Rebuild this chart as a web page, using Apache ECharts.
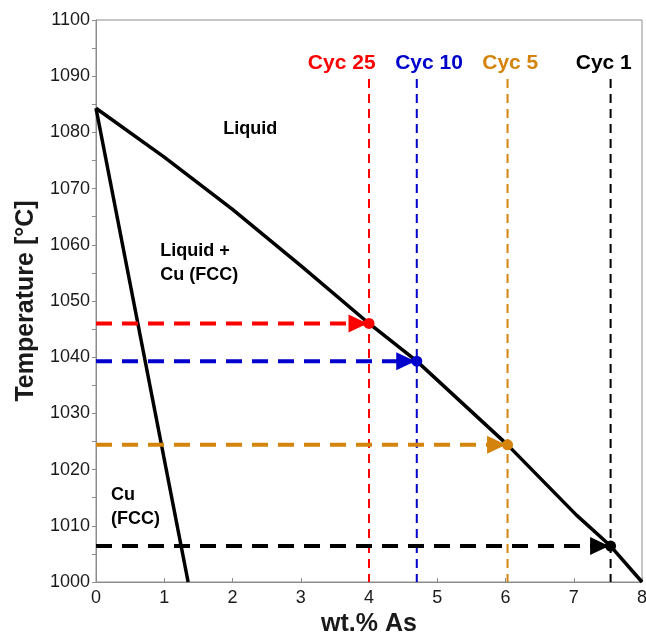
<!DOCTYPE html>
<html>
<head>
<meta charset="utf-8">
<script src="https://cdn.jsdelivr.net/npm/echarts@6/dist/echarts.min.js"></script>
<style>
html,body{margin:0;padding:0;background:#fff;}
#chart{width:646px;height:636px;}
</style>
</head>
<body>
<div id="chart"></div>
<script>
// ---- data ----
const liquidusX = [0, 1, 2, 3, 4, 4.7, 6.03, 7.04, 7.54, 8];
const liquidusT = [1084.3, 1075.6, 1066.3, 1056.3, 1046, 1039.3, 1024.4, 1011.9, 1006.4, 1000];
const solidusX = [0, 1.35];
const solidusT = [1084.3, 1000];
const cycleNames = ['Cyc 25', 'Cyc 10', 'Cyc 5', 'Cyc 1'];
const cycleX = [4.0, 4.7, 6.03, 7.54];
const cycleT = [1046, 1039.3, 1024.4, 1006.4];
const cycleColors = ['#ff0000', '#0000cc', '#d4840c', '#000000'];
const cycleLabelX = [3.6, 4.88, 6.07, 7.44];
const cycleLabelT = 1092.4;
const verticalTopT = 1089.5;
const regionLabels = ['Liquid', 'Liquid +\nCu (FCC)', 'Cu\n(FCC)'];
const regionLabelX = [2.26, 0.94, 0.22];
const regionLabelT = [1080.6, 1056.8, 1013.4];
const regionLabelAlign = ['center', 'left', 'left'];
const xTicks = [0, 1, 2, 3, 4, 5, 6, 7, 8];
const yMin = 1000, yMax = 1100, yStep = 10;

const FONT = "'Liberation Sans', Arial, sans-serif";
const series = [];

// vertical dashed cycle lines
cycleNames.forEach((n, i) => {
  series.push({
    type: 'line', name: n + ' v', z: 2,
    data: [[cycleX[i], verticalTopT], [cycleX[i], yMin]],
    symbol: 'none', silent: true,
    lineStyle: { color: cycleColors[i], width: 2, type: [9, 6], opacity: 1 }
  });
});

// phase boundaries
series.push({
  type: 'line', name: 'liquidus', z: 4,
  data: liquidusX.map((x, i) => [x, liquidusT[i]]),
  symbol: 'none', lineStyle: { color: '#000', width: 3.5 }
});
series.push({
  type: 'line', name: 'solidus', z: 4,
  data: solidusX.map((x, i) => [x, solidusT[i]]),
  symbol: 'none', lineStyle: { color: '#000', width: 3.5 }
});

// horizontal dashed arrows
cycleNames.forEach((n, i) => {
  series.push({
    type: 'line', name: n + ' h', z: 5,
    data: [[0, cycleT[i]], [cycleX[i], cycleT[i]]],
    symbol: 'none', silent: true,
    lineStyle: { color: cycleColors[i], width: 4, type: [16, 10] }
  });
  series.push({
    type: 'scatter', name: n + ' arrow', z: 6,
    data: [[cycleX[i], cycleT[i]]],
    symbol: 'path://M0,0L1,0.5L0,1Z', symbolSize: [19, 18], symbolOffset: [-11, 0],
    symbolKeepAspect: false,
    itemStyle: { color: cycleColors[i], opacity: 1 }
  });
  series.push({
    type: 'scatter', name: n + ' dot', z: 7,
    data: [[cycleX[i], cycleT[i]]],
    symbol: 'circle', symbolSize: 11,
    itemStyle: { color: cycleColors[i], opacity: 1 }
  });
});

// cycle labels
series.push({
  type: 'scatter', name: 'cyc labels', z: 8, symbolSize: 0, silent: true,
  itemStyle: { opacity: 1 },
  data: cycleNames.map((n, i) => ({
    value: [cycleLabelX[i], cycleLabelT],
    label: { show: true, formatter: n, position: 'inside', color: cycleColors[i], opacity: 1,
      fontFamily: FONT, fontWeight: 'bold', fontSize: 21 }
  }))
});

// region labels
series.push({
  type: 'scatter', name: 'region labels', z: 8, symbolSize: 0, silent: true,
  itemStyle: { opacity: 1 },
  data: regionLabels.map((t, i) => ({
    value: [regionLabelX[i], regionLabelT[i]],
    label: { show: true, formatter: t, position: regionLabelAlign[i] === 'left' ? 'right' : 'inside',
      distance: 0, align: regionLabelAlign[i], color: '#000', opacity: 1, lineHeight: 24,
      fontFamily: FONT, fontWeight: 'bold', fontSize: 18 }
  }))
});

const chart = echarts.init(document.getElementById('chart'), null, { renderer: 'canvas' });
chart.setOption({
  animation: false,
  backgroundColor: '#fff',
  grid: { left: 96, right: 4, top: 20, bottom: 54, outerBoundsMode: 'none', containLabel: false,
    show: true, borderColor: '#8c8c8c', borderWidth: 1 },
  xAxis: {
    type: 'value', min: xTicks[0], max: xTicks[xTicks.length - 1], interval: 1,
    name: 'wt.% As', nameLocation: 'middle', nameGap: 29,
    nameTextStyle: { fontFamily: FONT, fontWeight: 'bold', fontSize: 25, color: '#1a1a1a' },
    axisLine: { show: true, lineStyle: { color: '#8c8c8c', width: 1 } },
    axisTick: { show: true, inside: true, length: 4, lineStyle: { color: '#8c8c8c' } },
    axisLabel: { fontFamily: FONT, fontSize: 18, color: '#1a1a1a', margin: 7 },
    splitLine: { show: false }
  },
  yAxis: {
    type: 'value', min: yMin, max: yMax, interval: yStep,
    name: 'Temperature [°C]', nameLocation: 'middle', nameGap: 53,
    nameTextStyle: { fontFamily: FONT, fontWeight: 'bold', fontSize: 25, color: '#1a1a1a' },
    axisLine: { show: true, lineStyle: { color: '#8c8c8c', width: 1 } },
    axisTick: { show: true, length: 4, lineStyle: { color: '#8c8c8c' } },
    minorTick: { show: true, splitNumber: 2, length: 4, lineStyle: { color: '#8c8c8c' } },
    axisLabel: { fontFamily: FONT, fontSize: 18, color: '#1a1a1a', margin: 6,
      formatter: v => String(v) },
    splitLine: { show: false }
  },
  series: series
});
</script>
</body>
</html>
